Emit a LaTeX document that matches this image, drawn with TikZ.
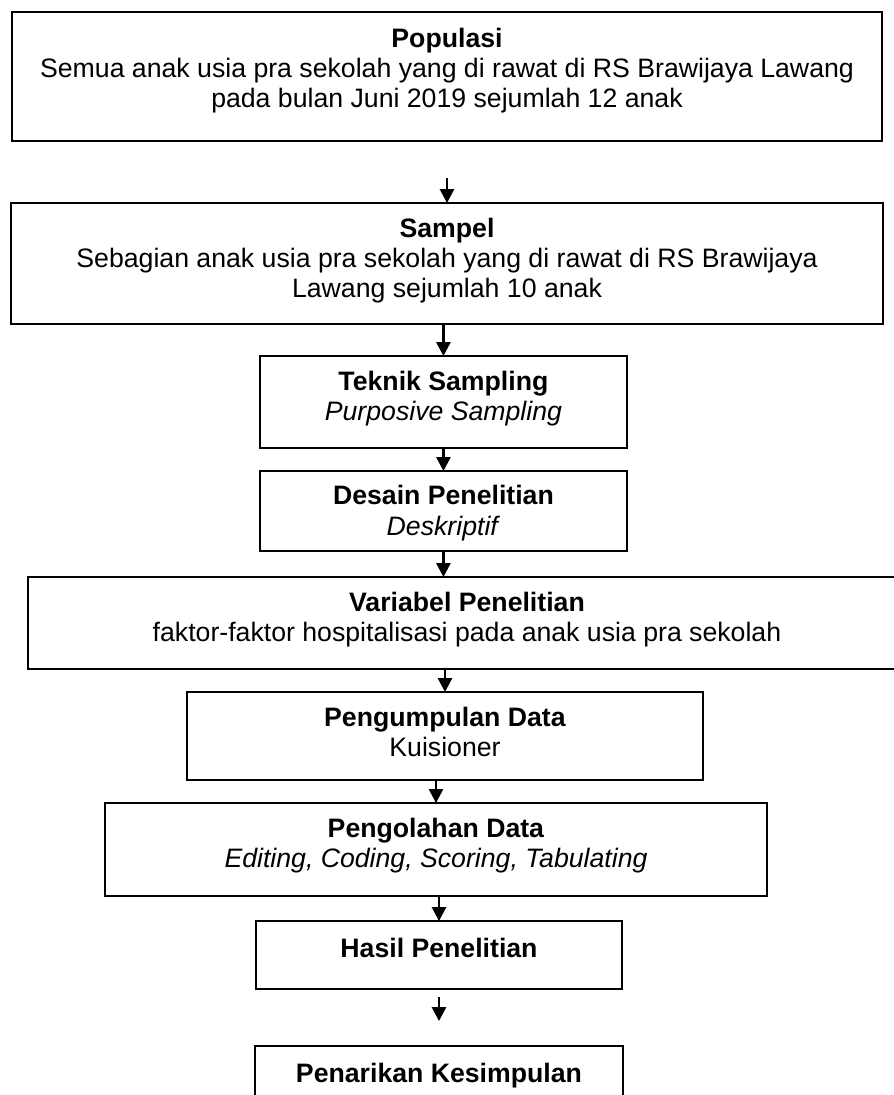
\documentclass[tikz,border=0pt]{standalone}
\usepackage{fontspec}
\setmainfont{Liberation Sans}
\usetikzlibrary{arrows.meta,positioning}

\begin{document}
\begin{tikzpicture}[x=0.45pt,y=-0.45pt,>={Triangle[length=6.3pt,width=6.4pt]}]
  \tikzstyle{stepbox}=[draw,rectangle,line width=0.9pt,inner sep=0pt,outer sep=0pt]
  \tikzstyle{steptext}=[align=center,inner sep=0pt,anchor=base,font=\fontsize{12}{13.6}\selectfont]
  \tikzstyle{flow}=[->,line width=1pt]

  \useasboundingbox (0,0) rectangle (894,1095);

  \node[stepbox, minimum width=391.5pt, minimum height=58.05pt] (pop) at (447,76.5) {};
  \node[stepbox, minimum width=392.4pt, minimum height=54.45pt, below=27.9pt of pop] (sam) {};
  \node[stepbox, minimum width=165.15pt, minimum height=41.4pt, below=14.4pt of sam, xshift=-1.6pt] (tek) {};
  \node[stepbox, minimum width=165.15pt, minimum height=36pt, below=10.35pt of tek] (des) {};
  \node[stepbox, minimum width=395.1pt, minimum height=41.4pt, below=11.7pt of des, xshift=10.6pt] (var) {};
  \node[stepbox, minimum width=232.2pt, minimum height=39.6pt, below=10.35pt of var, xshift=-9.9pt] (pgm) {};
  \node[stepbox, minimum width=297.45pt, minimum height=41.85pt, below=10.35pt of pgm, xshift=-4.05pt] (pgl) {};
  \node[stepbox, minimum width=164.7pt, minimum height=30.6pt, below=11.25pt of pgl, xshift=1.35pt] (has) {};
  \node[stepbox, minimum width=165.15pt, minimum height=36pt, below=25.65pt of has] (pen) {};

  % texts, base is the last line
  \node[steptext] (popt) at ([yshift=-43.1pt]pop.north) {\textbf{Populasi}\\Semua anak usia pra sekolah yang di rawat di RS Brawijaya Lawang\\pada bulan Juni 2019 sejumlah 12 anak};
  \node[steptext] (samt) at ([yshift=-42.6pt]sam.north) {\textbf{Sampel}\\Sebagian anak usia pra sekolah yang di rawat di RS Brawijaya\\Lawang sejumlah 10 anak};
  \node[steptext] (tekt) at ([yshift=-29.1pt]tek.north) {\textbf{Teknik Sampling}\\\textit{Purposive Sampling}};
  \node[steptext] (dest) at ([yshift=-28.8pt]des.north) {\textbf{Desain Penelitian}\\\textit{Deskriptif}};
  \node[steptext] (vart) at ([yshift=-29.1pt]var.north) {\textbf{Variabel Penelitian}\\faktor-faktor hospitalisasi pada anak usia pra sekolah};
  \node[steptext] (pgmt) at ([yshift=-29.1pt]pgm.north) {\textbf{Pengumpulan Data}\\Kuisioner};
  \node[steptext] (pglt) at ([yshift=-29.1pt]pgl.north) {\textbf{Pengolahan Data}\\\textit{Editing, Coding, Scoring, Tabulating}};
  \node[steptext] (hast) at ([yshift=-16.2pt]has.north) {\textbf{Hasil Penelitian}};
  \node[steptext] (pent) at ([yshift=-16.2pt]pen.north) {\textbf{Penarikan Kesimpulan}};

  \draw[flow, shorten <=16.65pt] (pop.south) -- (sam.north);
  \draw[flow] (sam.south -| tek) -- (tek.north);
  \draw[flow] (tek) -- (des);
  \draw[flow] (des.south) -- (var.north -| des);
  \draw[flow] (var.south -| pgm) -- (pgm.north);
  \draw[flow] (pgm.south -| pgl) -- (pgl.north);
  \draw[flow] (pgl.south -| has) -- (has.north);
  \draw[flow, shorten <=3.6pt, shorten >=11.25pt] (has) -- (pen);
\end{tikzpicture}
\end{document}
